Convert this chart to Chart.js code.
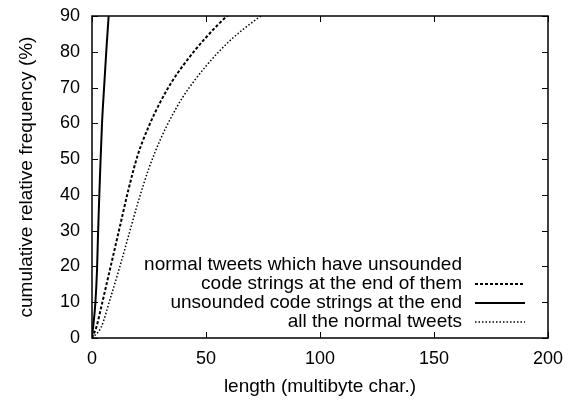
<!DOCTYPE html>
<html lang="en">
<head>
    <meta charset="UTF-8">
    <title>Cumulative relative frequency of tweet length</title>
    <script src="https://cdn.jsdelivr.net/npm/chart.js"></script>
    <style>
        body {
            margin: 0;
            background-color: #ffffff;
        }

        #box {
            width: 578px;
            height: 401px;
        }
    </style>
</head>
<body>
    <div id="box"><canvas id="lengthChart"></canvas></div>

    <script>
        // Values (length in multibyte chars, frequency in %).
        const lenCodeTweets = [0, 2, 4, 8, 12, 16, 20, 25, 30, 35, 40, 45, 50, 55, 60, 66];
        const freqCodeTweets = [0, 3.2, 8.5, 19.5, 30.5, 41.5, 51, 59.3, 66, 71.6, 76.2, 80.3, 84, 87.4, 90.4, 93];

        const lenCodeStrings = [0, 0.5, 1.5, 2.2, 2.6, 3.1, 3.6, 4.4, 5.3, 6.3, 7.3, 8];
        const freqCodeStrings = [0, 3, 10, 19, 28, 38, 47, 60, 70, 80.5, 90, 95];

        const lenAllTweets = [0, 4, 8, 12, 16, 20, 25, 30, 35, 40, 45, 50, 55, 60, 65, 70, 75, 80];
        const freqAllTweets = [0, 3, 11, 19.5, 28.5, 37.5, 47.5, 55.5, 62, 67.5, 72, 76, 79.6, 82.8, 85.6, 88.1, 90.4, 92.4];

        const seriesLabels = [
            'normal tweets which have unsounded\ncode strings at the end of them',
            'unsounded code strings at the end',
            'all the normal tweets'
        ];

        const xTicks = [0, 50, 100, 150, 200];
        const yTicks = [0, 10, 20, 30, 40, 50, 60, 70, 80, 90];

        const toPoints = (xs, ys) => xs.map((x, i) => ({ x: x, y: ys[i] }));

        const FONT = 'Liberation Sans, Arial, Helvetica, sans-serif';

        // gnuplot-like frame, inward ticks on all four sides and key in the lower right.
        const gnuplotLook = {
            id: 'gnuplotLook',
            afterDatasetsDraw(chart) {
                const { ctx, chartArea: a, scales } = chart;
                ctx.save();
                ctx.strokeStyle = '#000';
                ctx.lineWidth = 1;
                ctx.beginPath();
                xTicks.forEach(v => {
                    const px = Math.round(scales.x.getPixelForValue(v)) + 0.5;
                    ctx.moveTo(px, a.bottom); ctx.lineTo(px, a.bottom - 6);
                    ctx.moveTo(px, a.top); ctx.lineTo(px, a.top + 6);
                });
                yTicks.forEach(v => {
                    const py = Math.round(scales.y.getPixelForValue(v)) + 0.5;
                    ctx.moveTo(a.left, py); ctx.lineTo(a.left + 6, py);
                    ctx.moveTo(a.right, py); ctx.lineTo(a.right - 6, py);
                });
                ctx.stroke();

                ctx.lineWidth = 1.5;
                ctx.strokeRect(a.left, a.top, a.right - a.left, a.bottom - a.top);

                // key
                const textRight = 462;
                const sampleLeft = 475, sampleRight = 525;
                const lineGap = 19;
                let y = 265;
                ctx.font = '19px ' + FONT;
                ctx.fillStyle = '#000';
                ctx.textAlign = 'right';
                ctx.textBaseline = 'middle';
                chart.data.datasets.forEach(ds => {
                    const rows = ds.label.split('\n');
                    rows.forEach(r => {
                        ctx.fillText(r, textRight, y);
                        y += lineGap;
                    });
                    const sy = y - lineGap;
                    ctx.beginPath();
                    ctx.setLineDash(ds.borderDash || []);
                    ctx.lineWidth = ds.borderWidth;
                    ctx.strokeStyle = ds.borderColor;
                    ctx.moveTo(sampleLeft, sy);
                    ctx.lineTo(sampleRight, sy);
                    ctx.stroke();
                });
                ctx.restore();
            }
        };

        const ctx = document.getElementById('lengthChart').getContext('2d');
        const lengthChart = new Chart(ctx, {
            type: 'line',
            data: {
                datasets: [{
                    label: seriesLabels[0],
                    data: toPoints(lenCodeTweets, freqCodeTweets),
                    borderColor: '#000',
                    borderWidth: 2,
                    borderDash: [3, 2]
                }, {
                    label: seriesLabels[1],
                    data: toPoints(lenCodeStrings, freqCodeStrings),
                    borderColor: '#000',
                    borderWidth: 2
                }, {
                    label: seriesLabels[2],
                    data: toPoints(lenAllTweets, freqAllTweets),
                    borderColor: '#000',
                    borderWidth: 1.5,
                    borderDash: [1.5, 2]
                }]
            },
            options: {
                responsive: true,
                maintainAspectRatio: false,
                animation: false,
                cubicInterpolationMode: 'monotone',
                elements: {
                    point: { radius: 0 }
                },
                layout: {
                    padding: { top: 16, right: 30, left: 0, bottom: 0 }
                },
                plugins: {
                    legend: { display: false },
                    tooltip: { enabled: false }
                },
                scales: {
                    x: {
                        type: 'linear',
                        min: 0,
                        max: 200,
                        grid: { display: false },
                        border: { display: false },
                        afterBuildTicks: s => { s.ticks = xTicks.map(v => ({ value: v })); },
                        afterFit: s => { s.height = 63; },
                        ticks: {
                            padding: 2,
                            color: '#000',
                            font: { family: FONT, size: 18 }
                        },
                        title: {
                            display: true,
                            text: 'length (multibyte char.)',
                            color: '#000',
                            padding: { top: 0, bottom: 3 },
                            font: { family: FONT, size: 19 }
                        }
                    },
                    y: {
                        min: 0,
                        max: 90,
                        grid: { display: false },
                        border: { display: false },
                        afterBuildTicks: s => { s.ticks = yTicks.map(v => ({ value: v })); },
                        afterFit: s => { s.width = 92; },
                        ticks: {
                            padding: 4,
                            color: '#000',
                            font: { family: FONT, size: 18 }
                        },
                        title: {
                            display: true,
                            text: 'cumulative relative frequency (%)',
                            color: '#000',
                            padding: { top: 15, bottom: 0 },
                            font: { family: FONT, size: 19 }
                        }
                    }
                }
            },
            plugins: [gnuplotLook]
        });
    </script>
</body>
</html>
